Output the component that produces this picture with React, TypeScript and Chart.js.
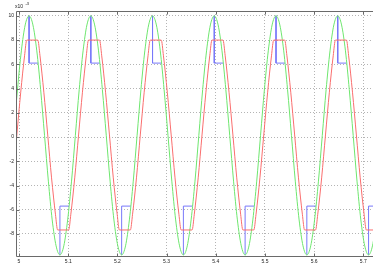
import React, { useEffect, useRef } from "react";
import { Chart, registerables } from "chart.js";

Chart.register(...registerables);

// ---- data (y in units of 1e-3) ----
const greenTime = [
  4.9891, 4.9969, 5.0048, 5.0126, 5.0205, 5.0283, 5.0362, 5.044, 5.0519, 5.0597, 5.0675, 5.0754, 5.0832, 5.0911, 5.0989, 5.1068,
  5.1146, 5.1224, 5.1303, 5.1381, 5.146, 5.1538, 5.1617, 5.1695, 5.1774, 5.1852, 5.193, 5.2009, 5.2087, 5.2166, 5.2244, 5.2323,
  5.2401, 5.2479, 5.2558, 5.2636, 5.2715, 5.2793, 5.2872, 5.295, 5.3029, 5.3107, 5.3185, 5.3264, 5.3342, 5.3421, 5.3499, 5.3578,
  5.3656, 5.3734, 5.3813, 5.3891, 5.397, 5.4048, 5.4127, 5.4205, 5.4284, 5.4362, 5.444, 5.4519, 5.4597, 5.4676, 5.4754, 5.4833,
  5.4911, 5.4989, 5.5068, 5.5146, 5.5225, 5.5303, 5.5382, 5.546, 5.5539, 5.5617, 5.5695, 5.5774, 5.5852, 5.5931, 5.6009, 5.6088,
  5.6166, 5.6244, 5.6323, 5.6401, 5.648, 5.6558, 5.6637, 5.6715, 5.6794, 5.6872, 5.695, 5.7029, 5.7107, 5.7186, 5.7264, 5.7343,
];
const greenValues = [
  0.14, 3.91, 7.11, 9.25, 10.0, 9.25, 7.11, 3.91, 0.14, -3.64, -6.84, -8.98, -9.73, -8.98, -6.84, -3.64,
  0.14, 3.91, 7.11, 9.25, 10.0, 9.25, 7.11, 3.91, 0.14, -3.64, -6.84, -8.98, -9.73, -8.98, -6.84, -3.64,
  0.14, 3.91, 7.11, 9.25, 10.0, 9.25, 7.11, 3.91, 0.14, -3.64, -6.84, -8.98, -9.73, -8.98, -6.84, -3.64,
  0.14, 3.91, 7.11, 9.25, 10.0, 9.25, 7.11, 3.91, 0.14, -3.64, -6.84, -8.98, -9.73, -8.98, -6.84, -3.64,
  0.14, 3.91, 7.11, 9.25, 10.0, 9.25, 7.11, 3.91, 0.14, -3.64, -6.84, -8.98, -9.73, -8.98, -6.84, -3.64,
  0.14, 3.91, 7.11, 9.25, 10.0, 9.25, 7.11, 3.91, 0.14, -3.64, -6.84, -8.98, -9.73, -8.98, -6.84, -3.64,
];

const redTime = [
  4.9878,
  4.9956, 5.0035, 5.0113, 5.0158, 5.0382, 5.0427, 5.0505, 5.0584, 5.0662, 5.0741, 5.0786, 5.1009, 5.1054, 5.1133,
  5.1211, 5.129, 5.1368, 5.1413, 5.1637, 5.1682, 5.176, 5.1839, 5.1917, 5.1996, 5.2041, 5.2264, 5.2309, 5.2388,
  5.2466, 5.2545, 5.2623, 5.2668, 5.2892, 5.2937, 5.3015, 5.3094, 5.3172, 5.3251, 5.3296, 5.3519, 5.3564, 5.3643,
  5.3721, 5.38, 5.3878, 5.3923, 5.4147, 5.4192, 5.427, 5.4349, 5.4427, 5.4506, 5.4551, 5.4774, 5.4819, 5.4898,
  5.4976, 5.5055, 5.5133, 5.5178, 5.5402, 5.5447, 5.5525, 5.5604, 5.5682, 5.5761, 5.5806, 5.6029, 5.6074, 5.6153,
  5.6231, 5.631, 5.6388, 5.6433, 5.6657, 5.6702, 5.678, 5.6859, 5.6937, 5.7016, 5.7061, 5.7284, 5.7329, 5.7408,
];
const redValues = [
  -3.37,
  0.17, 3.7, 6.7, 8, 8, 6.7, 3.7, 0.17, -3.37, -6.37, -7.67, -7.67, -6.37, -3.37,
  0.17, 3.7, 6.7, 8, 8, 6.7, 3.7, 0.17, -3.37, -6.37, -7.67, -7.67, -6.37, -3.37,
  0.17, 3.7, 6.7, 8, 8, 6.7, 3.7, 0.17, -3.37, -6.37, -7.67, -7.67, -6.37, -3.37,
  0.17, 3.7, 6.7, 8, 8, 6.7, 3.7, 0.17, -3.37, -6.37, -7.67, -7.67, -6.37, -3.37,
  0.17, 3.7, 6.7, 8, 8, 6.7, 3.7, 0.17, -3.37, -6.37, -7.67, -7.67, -6.37, -3.37,
  0.17, 3.7, 6.7, 8, 8, 6.7, 3.7, 0.17, -3.37, -6.37, -7.67, -7.67, -6.37, -3.37,
];

// blue: equals green except where it holds after each extreme (hidden parts omitted)
const blueTime = [
  5.0205, 5.0205, 5.0389, 5.0389, 5.0832, 5.0832, 5.1019, 5.1019,
  5.146, 5.146, 5.1644, 5.1644, 5.2087, 5.2087, 5.2274, 5.2274,
  5.2715, 5.2715, 5.2899, 5.2899, 5.3342, 5.3342, 5.3529, 5.3529,
  5.397, 5.397, 5.4154, 5.4154, 5.4597, 5.4597, 5.4784, 5.4784,
  5.5225, 5.5225, 5.5409, 5.5409, 5.5852, 5.5852, 5.6039, 5.6039,
  5.648, 5.648, 5.6664, 5.6664, 5.7107, 5.7107, 5.7294, 5.7294,
];
const blueValues = [
  10, 6.1, 6.1, null, -9.73, -5.7, -5.7, null,
  10, 6.1, 6.1, null, -9.73, -5.7, -5.7, null,
  10, 6.1, 6.1, null, -9.73, -5.7, -5.7, null,
  10, 6.1, 6.1, null, -9.73, -5.7, -5.7, null,
  10, 6.1, 6.1, null, -9.73, -5.7, -5.7, null,
  10, 6.1, 6.1, null, -9.73, -5.7, -5.7, null,
];

const xTicks = [5, 5.1, 5.2, 5.3, 5.4, 5.5, 5.6, 5.7];
const xTickLabels = ["5", "5.1", "5.2", "5.3", "5.4", "5.5", "5.6", "5.7"];
const yTicks = [-8, -6, -4, -2, 0, 2, 4, 6, 8, 10];
const yTickLabels = ["-8", "-6", "-4", "-2", "0", "2", "4", "6", "8", "10"];

const FONT = "'Liberation Sans', Arial, sans-serif";

const framePlugin = {
  id: "frame",
  afterDatasetsDraw(chart: any) {
    const { ctx, chartArea: a, scales } = chart;
    ctx.save();
    ctx.strokeStyle = "#6a6a6a";
    ctx.lineWidth = 1;
    ctx.beginPath();
    const L = Math.round(a.left) + 0.5;
    const T = Math.round(a.top) + 0.5;
    const B = Math.round(a.bottom) - 0.5;
    const R = Math.round(a.right) - 0.5;
    ctx.moveTo(L, T);
    ctx.lineTo(R + 1, T);
    ctx.moveTo(L, T);
    ctx.lineTo(L, B);
    ctx.lineTo(R + 1, B);
    for (const v of xTicks) {
      const x = Math.round(scales.x.getPixelForValue(v)) + 0.5;
      ctx.moveTo(x, B);
      ctx.lineTo(x, B - 3);
      ctx.moveTo(x, T);
      ctx.lineTo(x, T + 3);
    }
    for (const v of yTicks) {
      const y = Math.round(scales.y.getPixelForValue(v)) + 0.5;
      ctx.moveTo(L, y);
      ctx.lineTo(L + 3, y);
    }
    ctx.stroke();
    ctx.fillStyle = "#222";
    ctx.textBaseline = "alphabetic";
    ctx.textAlign = "left";
    ctx.font = `5px ${FONT}`;
    ctx.fillText("x10", 15, 8);
    ctx.font = `4px ${FONT}`;
    ctx.fillText("-3", 25.5, 4.5);
    ctx.restore();
  },
};

export default function App() {
  const ref = useRef<HTMLCanvasElement | null>(null);
  useEffect(() => {
    if (!ref.current) return;
    const green = greenTime.map((t, i) => ({ x: t, y: greenValues[i] }));
    const red = redTime.map((t, i) => ({ x: t, y: redValues[i] }));
    const blue = blueTime.map((t, i) => ({ x: t, y: blueValues[i] }));
    const chart = new Chart(ref.current, {
      type: "line",
      data: {
        datasets: [
          {
            data: red,
            borderColor: "rgb(250,110,110)",
            borderWidth: 1,
            pointRadius: 0,
            cubicInterpolationMode: "monotone",
            fill: false,
            order: 0,
          },
          {
            data: green,
            borderColor: "rgb(110,230,110)",
            borderWidth: 1,
            pointRadius: 0,
            cubicInterpolationMode: "monotone",
            fill: false,
            order: 1,
          },
          {
            data: blue,
            borderColor: "rgb(120,120,250)",
            borderWidth: 1,
            pointRadius: 0,
            tension: 0,
            spanGaps: false,
            fill: false,
            order: 2,
          },
        ] as any,
      },
      options: {
        animation: false,
        responsive: false,
        parsing: false as any,
        normalized: true,
        layout: { padding: { top: 11, left: 0, right: 0, bottom: 0 } },
        plugins: { legend: { display: false }, tooltip: { enabled: false } },
        scales: {
          x: {
            type: "linear",
            min: 4.9939,
            max: 5.7197,
            afterBuildTicks: (s: any) => {
              s.ticks = xTicks.map((v) => ({ value: v }));
            },
            afterFit: (s: any) => {
              s.height = 11;
            },
            ticks: {
              autoSkip: false,
              maxRotation: 0,
              padding: 2,
              color: "#222",
              font: { size: 5, family: FONT },
              callback: (v: any) => xTickLabels[xTicks.indexOf(Number(v))] ?? String(v),
            },
            grid: { color: "#b4b4b4", lineWidth: 1, drawTicks: false },
            border: { display: false, dash: [1, 2] },
          },
          y: {
            type: "linear",
            min: -9.9,
            max: 10.4,
            afterBuildTicks: (s: any) => {
              s.ticks = yTicks.map((v) => ({ value: v }));
            },
            afterFit: (s: any) => {
              s.width = 16;
            },
            ticks: {
              padding: 2,
              color: "#222",
              font: { size: 5, family: FONT },
              callback: (v: any) => yTickLabels[yTicks.indexOf(Number(v))] ?? String(v),
            },
            grid: { color: "#b4b4b4", lineWidth: 1, drawTicks: false },
            border: { display: false, dash: [1, 2] },
          },
        },
      },
      plugins: [framePlugin],
    });
    return () => chart.destroy();
  }, []);
  return (
    <div style={{ position: "fixed", left: 0, top: 0, width: 373, height: 268, background: "#fff" }}>
      <canvas ref={ref} width={373} height={268} style={{ display: "block" }} />
    </div>
  );
}
